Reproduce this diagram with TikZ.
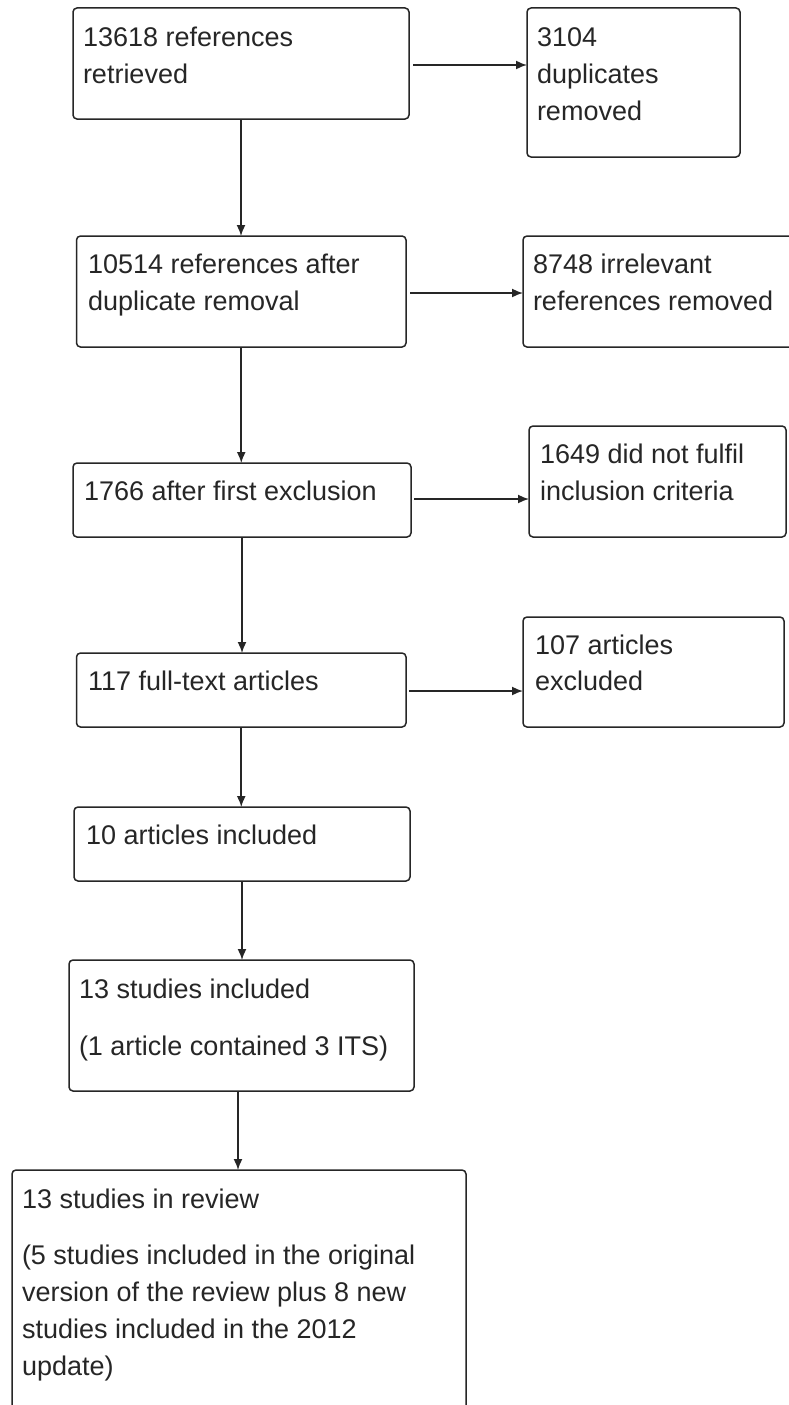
\documentclass[tikz,border=0pt]{standalone}
\usepackage{fontspec}
\setmainfont{Liberation Sans}
\usetikzlibrary{arrows.meta}
\begin{document}
\begin{tikzpicture}[x=1pt,y=-1pt,
  box/.style={draw=black!85, line width=1.5pt, rounded corners=4pt, inner sep=0pt, outer sep=0pt},
  lbl/.style={anchor=base west, inner sep=0pt, outer sep=0pt, font=\fontsize{27}{36}\selectfont, text=black!85},
  arr/.style={draw=black!85, line width=1.6pt, -{Latex[length=11pt,width=9pt]}}]
\clip (0,0) rectangle (789,1405);
\fill[white] (0,0) rectangle (789,1405);
% boxes
\node[box, minimum width=336pt, minimum height=111pt] (A) at (241,63.5) {};
\node[box, minimum width=213pt, minimum height=149pt] (B) at (633.5,82.5) {};
\node[box, minimum width=329.5pt, minimum height=111pt] (C) at (241.25,291.5) {};
\node[box, minimum width=277pt, minimum height=111pt] (D) at (661.5,291.5) {};
\node[box, minimum width=338pt, minimum height=74pt] (E) at (242,500) {};
\node[box, minimum width=257pt, minimum height=111pt] (F) at (657.5,481.5) {};
\node[box, minimum width=329.5pt, minimum height=74pt] (G) at (241.25,690) {};
\node[box, minimum width=261pt, minimum height=110pt] (H) at (653.5,672) {};
\node[box, minimum width=336pt, minimum height=74pt] (I) at (242,844) {};
\node[box, minimum width=345pt, minimum height=131pt] (J) at (241.5,1025.5) {};
\node[box, minimum width=454pt, minimum height=260pt] (K) at (239,1300) {};
% texts
\node[lbl] (tA1) at (83,47) {13618 references};
\node[lbl] (tA2) at (83,83) {retrieved};
\node[lbl] (tB1) at (537,47) {3104};
\node[lbl] (tB2) at (537,83) {duplicates};
\node[lbl] (tB3) at (537,120) {removed};
\node[lbl] (tC1) at (88,273) {10514 references after};
\node[lbl] (tC2) at (88,310) {duplicate removal};
\node[lbl] (tD1) at (533,273) {8748 irrelevant};
\node[lbl] (tD2) at (533,310) {references removed};
\node[lbl] (tE1) at (84,500) {1766 after first exclusion};
\node[lbl] (tF1) at (540,463) {1649 did not fulfil};
\node[lbl] (tF2) at (540,500) {inclusion criteria};
\node[lbl] (tG1) at (88,690) {117 full-text articles};
\node[lbl] (tH1) at (535,654) {107 articles};
\node[lbl] (tH2) at (535,690) {excluded};
\node[lbl] (tI1) at (86,844) {10 articles included};
\node[lbl] (tJ1) at (79,998) {13 studies included};
\node[lbl] (tJ2) at (79,1055) {(1 article contained 3 ITS)};
\node[lbl] (tK1) at (22,1208) {13 studies in review};
\node[lbl] (tK2) at (22,1264) {(5 studies included in the original};
\node[lbl] (tK3) at (22,1301) {version of the review plus 8 new};
\node[lbl] (tK4) at (22,1338) {studies included in the 2012};
\node[lbl] (tK5) at (22,1375) {update)};
% vertical connectors
\draw[arr] (A.south) -- (A.south |- C.north);
\draw[arr] (C.south) -- (C.south |- E.north);
\draw[arr] (E.south) -- (E.south |- G.north);
\draw[arr] (G.south) -- (G.south |- I.north);
\draw[arr] (I.south) -- (I.south |- J.north);
\draw[arr] ([xshift=-3.5pt]J.south) -- ([xshift=-3.5pt]J.south |- K.north);
% horizontal connectors
\draw[arr, shorten <=4pt] ([yshift=-1.5pt]A.east) -- ([yshift=-1.5pt]A.east -| B.west);
\draw[arr, shorten <=4pt] ([yshift=-1.5pt]C.east) -- ([yshift=-1.5pt]C.east -| D.west);
\draw[arr, shorten <=3pt] ([yshift=1pt]E.east) -- ([yshift=1pt]E.east -| F.west);
\draw[arr, shorten <=3pt] ([yshift=-1pt]G.east) -- ([yshift=-1pt]G.east -| H.west);
\end{tikzpicture}
\end{document}
